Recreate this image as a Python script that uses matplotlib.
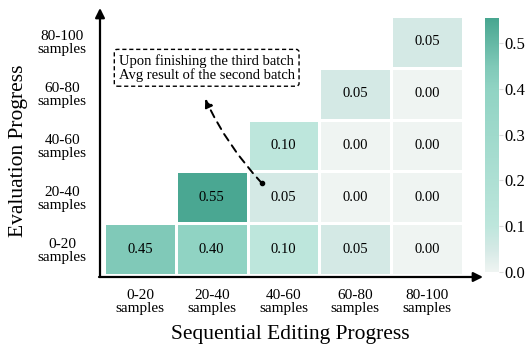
import numpy as np
import matplotlib
matplotlib.use("Agg")
import matplotlib.pyplot as plt
from matplotlib.colors import LinearSegmentedColormap

plt.rcParams['font.family'] = ['Liberation Serif', 'DejaVu Serif']

# data
edit_labels = ["0-20\nsamples", "20-40\nsamples", "40-60\nsamples", "60-80\nsamples", "80-100\nsamples"]
eval_labels = ["0-20\nsamples", "20-40\nsamples", "40-60\nsamples", "60-80\nsamples", "80-100\nsamples"]
# rows = evaluation progress (bottom to top), cols = sequential editing progress
row_0_20 = [0.45, 0.40, 0.10, 0.05, 0.00]
row_20_40 = [np.nan, 0.55, 0.05, 0.00, 0.00]
row_40_60 = [np.nan, np.nan, 0.10, 0.00, 0.00]
row_60_80 = [np.nan, np.nan, np.nan, 0.05, 0.00]
row_80_100 = [np.nan, np.nan, np.nan, np.nan, 0.05]

vals = np.array([row_0_20, row_20_40, row_40_60, row_60_80, row_80_100])
vmax = 0.555

cmap = LinearSegmentedColormap.from_list("teal", [
    (0.0, "#eff4f2"),
    (0.05 / vmax, "#d4e9e5"),
    (0.10 / vmax, "#bde6dc"),
    (0.40 / vmax, "#90d3c3"),
    (0.45 / vmax, "#80c9b8"),
    (1.0, "#48a690"),
])

fig = plt.figure(figsize=(5.26, 3.45), dpi=100)
ax = fig.add_axes([104 / 526, 1 - 275 / 345, 359 / 526, 259 / 345])
cax = fig.add_axes([485 / 526, 1 - 272 / 345, 14 / 526, 254 / 345])

masked = np.ma.masked_invalid(vals)
mesh = ax.pcolormesh(np.arange(6), np.arange(6), masked, cmap=cmap, vmin=0, vmax=vmax,
                     edgecolors="white", linewidth=2)
for i in range(vals.shape[0]):
    for j in range(vals.shape[1]):
        if not np.isnan(vals[i, j]):
            ax.text(j + 0.5, i + 0.5, f"{vals[i, j]:.2f}", ha="center", va="center", fontsize=10.5)

ax.set_xlim(0, 5)
ax.set_ylim(0, 5)
for s in ax.spines.values():
    s.set_visible(False)
ax.set_xticks(np.arange(5) + 0.5)
ax.set_xticklabels(edit_labels, fontsize=11, linespacing=1.0)
ax.set_yticks(np.arange(5) + 0.5)
ax.set_yticklabels(eval_labels, fontsize=11, linespacing=1.0, ha="center")
ax.tick_params(axis="x", length=0, pad=10)
ax.tick_params(axis="y", length=0, pad=30)
ax.set_xlabel("Sequential Editing Progress", fontsize=15.5)
ax.set_ylabel("Evaluation Progress", fontsize=15.5)
ax.xaxis.set_label_coords(0.518, -0.193)
ax.yaxis.set_label_coords(-0.212, 0.48)

# axis arrows
ax.annotate("", xy=(100 / 526, 1 - 8 / 345), xytext=(100 / 526, 1 - 277 / 345),
            xycoords="figure fraction", textcoords="figure fraction",
            arrowprops=dict(arrowstyle="-|>", color="black", lw=1.6, mutation_scale=14,
                            shrinkA=0, shrinkB=0))
ax.annotate("", xy=(483 / 526, 1 - 277 / 345), xytext=(99 / 526, 1 - 277 / 345),
            xycoords="figure fraction", textcoords="figure fraction",
            arrowprops=dict(arrowstyle="-|>", color="black", lw=1.6, mutation_scale=14,
                            shrinkA=0, shrinkB=0))

# note box + dashed arrow
ax.text(1.43, 4.0, "Upon finishing the third batch\nAvg result of the second batch",
        ha="center", va="center", fontsize=10.5, linespacing=1.05,
        bbox=dict(boxstyle="round,pad=0.3,rounding_size=0.2", fc="white", ec="black",
                  ls=(0, (3, 2)), lw=1.0), clip_on=False)
ax.annotate("", xy=(1.41, 3.4), xytext=(2.2, 1.77),
            arrowprops=dict(arrowstyle="-|>", color="black", lw=1.4, ls=(0, (4, 3)),
                            mutation_scale=12, shrinkA=0, shrinkB=0,
                            connectionstyle="arc3,rad=-0.08"), annotation_clip=False)
ax.plot([2.2], [1.77], "o", color="black", ms=3, clip_on=False)

cb = fig.colorbar(mesh, cax=cax)
cb.outline.set_visible(False)
cb.set_ticks([0.0, 0.1, 0.2, 0.3, 0.4, 0.5])
cb.ax.tick_params(labelsize=12, length=3, width=0.8, color="#dddddd", pad=1)

fig.savefig("out.png", dpi=100)
